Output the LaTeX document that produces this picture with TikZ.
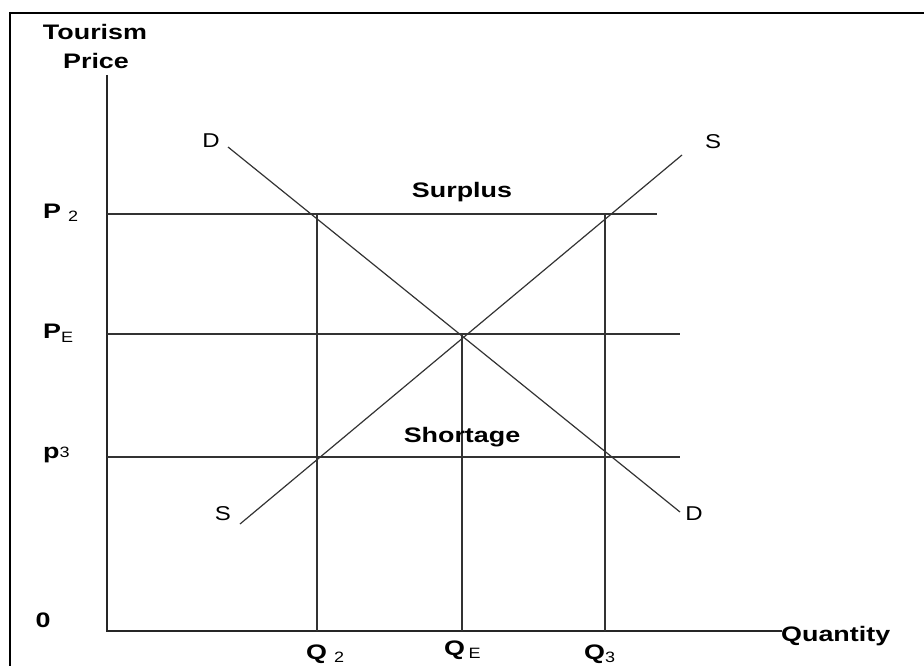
\documentclass[tikz,border=0pt]{standalone}
\usepackage{fontspec}
\setmainfont{Liberation Sans}
\newfontfamily\labfont[FakeStretch=1.2]{Liberation Sans}
\newfontfamily\blabfont[FakeStretch=1.28]{Liberation Sans}
\begin{document}
\begin{tikzpicture}[x=1pt,y=-1pt,
  lab/.style={inner sep=0pt,font=\labfont\fontsize{20}{22}\selectfont},
  blab/.style={inner sep=0pt,font=\blabfont\bfseries\fontsize{21}{23}\selectfont},
  curve/.style={draw=black!80,line width=1.2pt},
  grid/.style={draw=black!80,line width=1.2pt},
  axis/.style={draw=black!85,line width=1.4pt}]
\newcommand{\subtx}[1]{{\normalfont\labfont\fontsize{15}{16}\selectfont #1}}
\useasboundingbox (0,0) rectangle (924,666);
\draw[line width=2.6pt] (9,13) -- (924,13);
\draw[line width=2.6pt] (10,12) -- (10,666);
% axes
\coordinate (O) at (107,631);
\coordinate (ytop) at (107,75);
\coordinate (xend) at (782,631);
\draw[axis] (ytop) -- (O) -- (xend);
% key points
\coordinate (P2) at (107,214);
\coordinate (PE) at (107,334);
\coordinate (P3) at (107,457);
\coordinate (A) at (317,214);
\coordinate (B) at (605,214);
\coordinate (E) at (462,334);
\coordinate (C) at (317,457);
\coordinate (F) at (605,457);
\coordinate (Q2) at (317,631);
\coordinate (QE) at (462,631);
\coordinate (Q3) at (605,631);
\coordinate (P2end) at (657,214);
\coordinate (PEend) at (680,334);
\coordinate (P3end) at (680,457);
\draw[grid] (P2) -- (P2end);
\draw[grid] (PE) -- (PEend);
\draw[grid] (P3) -- (P3end);
\draw[grid] (A) -- (Q2);
\draw[grid] (E) -- (QE);
\draw[grid] (B) -- (Q3);
% curves
\coordinate (D1) at (228,147);
\coordinate (D2) at (680,512);
\coordinate (S1) at (240,524);
\coordinate (S2) at (682,155);
\draw[curve] (D1) -- (D2);
\draw[curve] (S1) -- (S2);
% labels
\node[lab] (dl1) at (211,141) {D};
\node[lab] (sl1) at (713,142) {S};
\node[lab] (sl2) at (223,514) {S};
\node[lab] (dl2) at (694,514) {D};
\node[blab] (surplus) at (462,192) {Surplus};
\node[blab] (shortage) at (462,437) {Shortage};
\node[blab] (tour) at (95,32) {Tourism};
\node[blab] (price) at (96,61) {Price};
\node[blab,anchor=west] (lp2) at (43,213) {P\,\,\raisebox{-0.3ex}{\subtx{2}}};
\node[blab,anchor=west] (lpe) at (43,333) {P\raisebox{-0.35ex}{\subtx{E}}};
\node[blab,anchor=west] (lp3) at (43,455) {p\raisebox{0.05ex}{\subtx{3}}};
\node[blab] (zero) at (43,620) {0};
\node[blab,anchor=west] (lq2) at (306,654) {Q\,\,\raisebox{-0.3ex}{\subtx{2}}};
\node[blab,anchor=west] (lqe) at (444,650) {Q\,\raisebox{-0.3ex}{\subtx{E}}};
\node[blab,anchor=west] (lq3) at (584,654) {Q\raisebox{-0.3ex}{\subtx{3}}};
\node[blab,anchor=west] (qty) at (781,636) {Quantity};
\end{tikzpicture}
\end{document}
